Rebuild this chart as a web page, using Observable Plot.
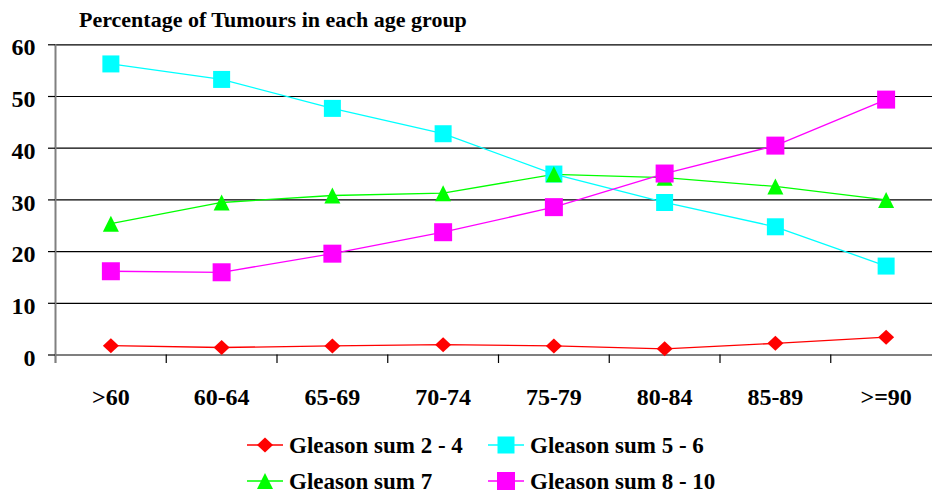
<!DOCTYPE html>
<html><head><meta charset="utf-8">
<script src="https://cdn.jsdelivr.net/npm/d3@7"></script>
<script src="https://cdn.jsdelivr.net/npm/@observablehq/plot@0.6"></script>
<style>
html,body{margin:0;padding:0;background:#fff;overflow:hidden;}
#wrap{position:relative;width:932px;height:494px;font-family:"Liberation Serif","Tinos","Times New Roman","Nimbus Roman","DejaVu Serif",serif;font-weight:bold;color:#000;}
#title{position:absolute;left:79px;top:9px;font-size:22px;line-height:22px;white-space:nowrap;}
.leg{position:absolute;display:flex;align-items:center;font-size:23px;line-height:23px;white-space:nowrap;height:23px;}
.leg svg{margin-right:6px;overflow:visible;}
#chart svg{display:block;}
</style></head><body>
<div id="wrap"><div id="chart"></div><div id="title">Percentage of Tumours in each age group</div><div id="legend"></div></div>
<script>
const categories = [">60","60-64","65-69","70-74","75-79","80-84","85-89",">=90"];
const gleason24  = [1.8, 1.45, 1.75, 2.0, 1.75, 1.2, 2.25, 3.45];
const gleason56  = [56.3, 53.3, 47.7, 42.8, 35.0, 29.5, 24.8, 17.2];
const gleason7   = [25.4, 29.5, 30.85, 31.3, 34.95, 34.3, 32.6, 30.0];
const gleason810 = [16.2, 16.0, 19.6, 23.75, 28.6, 35.1, 40.5, 49.4];
const yTicks = [0, 10, 20, 30, 40, 50, 60];
const seriesNames = ["Gleason sum 2 - 4", "Gleason sum 5 - 6", "Gleason sum 7", "Gleason sum 8 - 10"];
const seriesValues = [gleason24, gleason56, gleason7, gleason810];
const seriesColors = ["#FF0000", "#00FFFF", "#00FF00", "#FF00FF"];

const diamond = {draw(c){c.moveTo(0,-7.5);c.lineTo(8,0);c.lineTo(0,7.5);c.lineTo(-8,0);c.closePath();}};
const square = h => ({draw(c){c.rect(-h,-h,2*h,2*h);}});
const triangle = {draw(c){c.moveTo(0,-8);c.lineTo(8,8);c.lineTo(-8,8);c.closePath();}};
const seriesSymbols = [diamond, square(8.5), triangle, square(9)];

const FONT = '"Liberation Serif","Tinos","Times New Roman","Nimbus Roman","DejaVu Serif",serif';
const rows = seriesValues.map(vals => vals.map((v, i) => ({x: i + 0.5, y: v, cat: categories[i]})));
const boundaries = d3.range(0, categories.length + 1);
const yBelow = -1.65;

const marks = [
  Plot.ruleY(yTicks, {stroke: "#000", strokeWidth: 1.2}),
  Plot.ruleX(boundaries, {y1: 0, y2: yBelow, stroke: "#000", strokeWidth: 1.2}),
  Plot.ruleX([0], {y1: yBelow, y2: 60, stroke: "#808080", strokeWidth: 2}),
  Plot.axisY({ticks: yTicks, tickSize: 7, tickFormat: () => "", label: null, stroke: "#000", strokeWidth: 1.2}),
  Plot.axisY({ticks: yTicks, tickSize: 0, tickPadding: 20, dy: 3, fontSize: 24, fontWeight: "bold", fontFamily: FONT, label: null, fill: "#000"}),
  Plot.text(categories, {x: (d, i) => i + 0.5, y: 0, dy: 42, text: d => d, fontSize: 24, fontWeight: "bold", fontFamily: FONT, fill: "#000"})
];
rows.forEach((r, k) => marks.push(Plot.line(r, {x: "x", y: "y", stroke: seriesColors[k], strokeWidth: 1.3})));
rows.forEach((r, k) => marks.push(Plot.dot(r, {x: "x", y: "y", symbol: seriesSymbols[k], fill: seriesColors[k], stroke: "none"})));

const chart = Plot.plot({
  width: 932, height: 420,
  marginTop: 44.3, marginBottom: 65.5, marginLeft: 55, marginRight: -9,
  x: {domain: [0, categories.length], axis: null},
  y: {domain: [0, 60], axis: null},
  style: {fontFamily: FONT, background: "transparent", overflow: "hidden"},
  marks
});
document.getElementById("chart").appendChild(chart);

// legend
const legendPos = [[247, 445], [488, 445], [247, 481], [488, 481]];
const legendShapes = [
  '<path d="M18,2.5L26,10L18,17.5L10,10Z"/>',
  '<rect x="9.5" y="1.5" width="17" height="17"/>',
  '<path d="M18,2L26,18L10,18Z"/>',
  '<rect x="9" y="1" width="18" height="18"/>'
];
const leg = document.getElementById("legend");
seriesNames.forEach((name, k) => {
  const d = document.createElement("div");
  d.className = "leg";
  d.style.left = legendPos[k][0] + "px";
  d.style.top = (legendPos[k][1] - 11.5) + "px";
  d.innerHTML = `<svg width="36" height="20" viewBox="0 0 36 20"><line x1="0" x2="36" y1="10" y2="10" stroke="${seriesColors[k]}" stroke-width="1.3"/><g fill="${seriesColors[k]}">${legendShapes[k]}</g></svg><span>${name}</span>`;
  leg.appendChild(d);
});
</script>
</body></html>
